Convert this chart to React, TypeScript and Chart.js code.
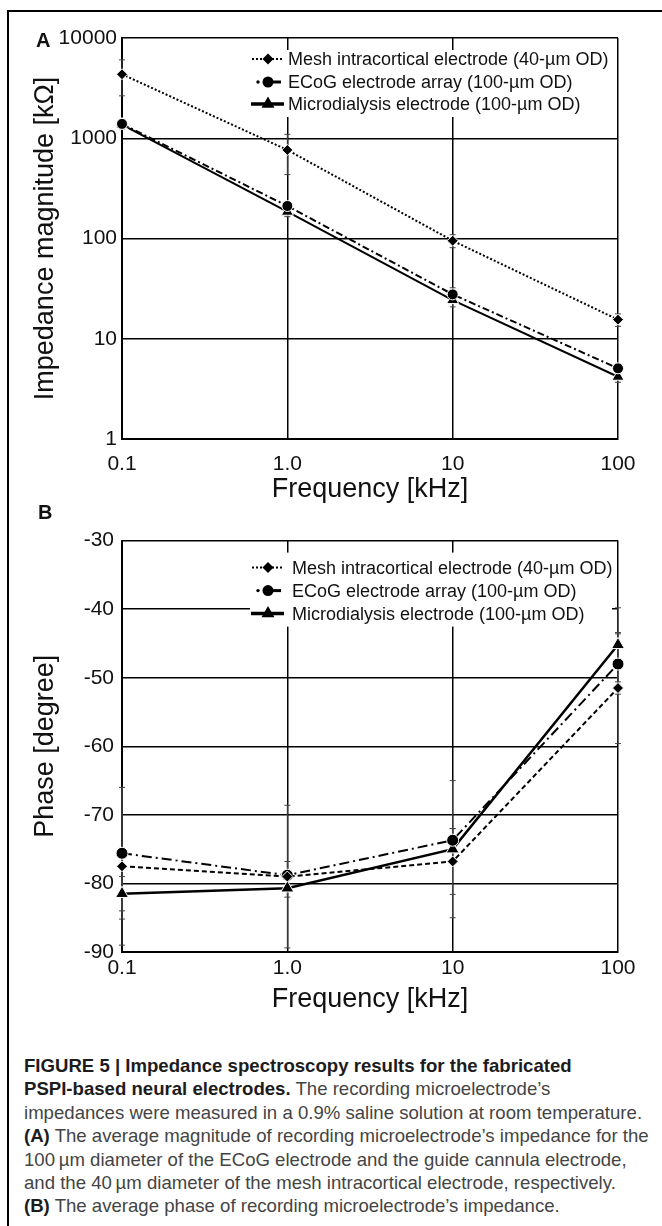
import React, { useEffect, useRef } from 'react';
import { Chart, registerables } from 'chart.js';

Chart.register(...registerables);

const FONT = "'Liberation Sans', Arial, Helvetica, sans-serif";

// ---------- data ----------
const FREQ_KHZ = [0.1, 1, 10, 100];
const FREQ_LABELS = ['0.1', '1.0', '10', '100'];
const SERIES_NAMES = [
  'Mesh intracortical electrode (40-µm OD)',
  'ECoG electrode array (100-µm OD)',
  'Microdialysis electrode (100-µm OD)',
];

const MAG_TICKS = [1, 10, 100, 1000, 10000];
const MAG_TICK_LABELS = ['1', '10', '100', '1000', '10000'];
const MAG_MESH = [4350, 764, 95, 15.5];
const MAG_ECOG = [1390, 211, 27.7, 5.07];
const MAG_MICRO = [1370, 185, 24.3, 4.18];
const MAG_ERR_MESH = [1700, 330, 14, 2.2];
const MAG_ERR_ECOG = [150, 22, 4.5, 0.6];
const MAG_ERR_MICRO = [120, 20, 3.5, 0.5];

const PHASE_MESH = [-77.5, -79.0, -76.8, -51.5];
const PHASE_ECOG = [-75.6, -78.8, -73.7, -48.0];
const PHASE_MICRO = [-81.5, -80.7, -75.0, -45.2];
const PHASE_ERR_MESH = [11.5, 10.4, 4.8, 8.1];
const PHASE_ERR_ECOG = [9.6, 2.0, 1.7, 4.4];
const PHASE_ERR_MICRO = [2.5, 1.3, 10.0, 5.4];

// ---------- plugins ----------
const errorBarPlugin = {
  id: 'errorBars',
  beforeDatasetsDraw(chart: any, _args: any, opts: any) {
    const { ctx } = chart;
    const xs = chart.scales.x;
    const ys = chart.scales.y;
    ctx.save();
    ctx.strokeStyle = opts.color || '#555';
    ctx.lineWidth = 1;
    (opts.errors || []).forEach((errs: number[], di: number) => {
      const data = chart.data.datasets[di].data as { x: number; y: number }[];
      data.forEach((p, i) => {
        const e = errs[i];
        const px = xs.getPixelForValue(p.x);
        const yTop = ys.getPixelForValue(p.y + e);
        const yBot = ys.getPixelForValue(p.y - e);
        ctx.beginPath();
        ctx.moveTo(px, yTop);
        ctx.lineTo(px, yBot);
        ctx.moveTo(px - 3, yTop);
        ctx.lineTo(px + 3, yTop);
        ctx.moveTo(px - 3, yBot);
        ctx.lineTo(px + 3, yBot);
        ctx.stroke();
      });
    });
    ctx.restore();
  },
};

function drawMarker(ctx: CanvasRenderingContext2D, style: string, x: number, y: number, r: number) {
  ctx.beginPath();
  if (style === 'circle') {
    ctx.arc(x, y, r, 0, Math.PI * 2);
  } else if (style === 'rectRot') {
    ctx.moveTo(x, y - r);
    ctx.lineTo(x + r, y);
    ctx.lineTo(x, y + r);
    ctx.lineTo(x - r, y);
    ctx.closePath();
  } else {
    ctx.moveTo(x, y - r);
    ctx.lineTo(x + r * 0.866, y + r * 0.5);
    ctx.lineTo(x - r * 0.866, y + r * 0.5);
    ctx.closePath();
  }
  ctx.fillStyle = '#000';
  ctx.fill();
}

const boxLegendPlugin = {
  id: 'boxLegend',
  afterDraw(chart: any, _args: any, opts: any) {
    const { ctx, chartArea } = chart;
    const L = chartArea.left;
    const T = chartArea.top;
    ctx.save();
    ctx.fillStyle = '#fff';
    ctx.fillRect(L + opts.box.left, T + opts.box.top, opts.box.width, opts.box.height);
    ctx.font = `${opts.fontSize}px ${FONT}`;
    ctx.textBaseline = 'middle';
    ctx.textAlign = 'left';
    opts.labels.forEach((label: string, i: number) => {
      const y = T + opts.rows[i];
      const cx = L + opts.sampleX;
      const s = opts.samples[i];
      ctx.strokeStyle = '#000';
      ctx.lineWidth = s.width;
      ctx.setLineDash(s.dash);
      ctx.beginPath();
      ctx.moveTo(cx + s.from, y);
      ctx.lineTo(cx + s.to, y);
      ctx.stroke();
      ctx.setLineDash([]);
      if (s.dot) {
        ctx.beginPath();
        ctx.arc(cx + s.dot, y, 1.7, 0, Math.PI * 2);
        ctx.fillStyle = '#000';
        ctx.fill();
      }
      drawMarker(ctx, s.marker, cx, y, s.r);
      ctx.fillStyle = '#111';
      ctx.fillText(label, L + opts.textX, y + 1);
    });
    ctx.restore();
  },
};

// ---------- helpers ----------
const pts = (vals: number[]) => vals.map((v, i) => ({ x: FREQ_KHZ[i], y: v }));

function ds(label: string, vals: number[], style: string, r: number, dash: number[], width: number) {
  return {
    label,
    data: pts(vals),
    borderColor: '#000',
    backgroundColor: '#000',
    borderWidth: width,
    borderDash: dash,
    pointStyle: style,
    pointRadius: r,
    pointHoverRadius: r,
    pointBackgroundColor: '#000',
    pointBorderColor: '#fff',
    pointBorderWidth: 1,
    fill: false,
    tension: 0,
    clip: false,
  };
}

function xScale(padTick: number, padTitle: number, height: number) {
  return {
    type: 'logarithmic',
    min: 0.1,
    max: 100,
    position: 'bottom',
    afterBuildTicks: (s: any) => {
      s.ticks = FREQ_KHZ.map((v) => ({ value: v }));
    },
    afterFit: (s: any) => {
      s.height = height;
    },
    ticks: {
      callback: (_v: any, i: number) => FREQ_LABELS[i],
      font: { family: FONT, size: 21 },
      color: '#111',
      padding: padTick,
      maxRotation: 0,
      autoSkip: false,
    },
    grid: { color: '#000', lineWidth: 1.5, drawTicks: false },
    border: { color: '#000', width: 2 },
    title: {
      display: true,
      text: 'Frequency [kHz]',
      font: { family: FONT, size: 27 },
      color: '#111',
      padding: { top: 0, bottom: padTitle },
    },
  };
}

const SAMPLE_STYLES = [
  { marker: 'rectRot', r: 5.5, width: 2, dash: [2, 2], from: -16, to: 15 },
  { marker: 'circle', r: 5.5, width: 3, dash: [], from: 0, to: 13, dot: -10 },
  { marker: 'triangle', r: 7.5, width: 3.5, dash: [], from: -17, to: 16 },
];

function ChartCanvas({ config, width, height, style }: any) {
  const ref = useRef<HTMLCanvasElement>(null);
  useEffect(() => {
    const chart = new Chart(ref.current as HTMLCanvasElement, config);
    return () => chart.destroy();
  }, []);
  return <canvas ref={ref} width={width} height={height} style={{ position: 'absolute', ...style, width, height }} />;
}

const magConfig: any = {
  type: 'line',
  data: {
    datasets: [
      ds(SERIES_NAMES[0], MAG_MESH, 'rectRot', 5.5, [2, 2], 2),
      ds(SERIES_NAMES[1], MAG_ECOG, 'circle', 5.5, [7, 3, 2, 3], 2),
      ds(SERIES_NAMES[2], MAG_MICRO, 'triangle', 7, [], 2),
    ],
  },
  options: {
    responsive: false,
    animation: false,
    devicePixelRatio: 1,
    layout: { padding: { top: 24, right: 32, left: 0, bottom: 0 } },
    scales: {
      x: xScale(13, 14, 81),
      y: {
        type: 'logarithmic',
        min: 1,
        max: 10000,
        afterBuildTicks: (s: any) => {
          s.ticks = MAG_TICKS.map((v) => ({ value: v }));
        },
        afterFit: (s: any) => {
          s.width = 112;
        },
        ticks: {
          callback: (_v: any, i: number) => MAG_TICK_LABELS[i],
          font: { family: FONT, size: 21 },
          color: '#111',
          padding: 5,
          autoSkip: false,
        },
        grid: { color: '#000', lineWidth: 1.5, drawTicks: false },
        border: { color: '#000', width: 2 },
        title: {
          display: true,
          text: 'Impedance magnitude [kΩ]',
          font: { family: FONT, size: 27 },
          color: '#111',
          padding: { top: 19, bottom: 0 },
        },
      },
    },
    plugins: {
      legend: { display: false },
      tooltip: { enabled: false },
      errorBars: { errors: [MAG_ERR_MESH, MAG_ERR_ECOG, MAG_ERR_MICRO], color: '#444' },
      boxLegend: {
        labels: SERIES_NAMES,
        box: { left: 122, top: 12, width: 368, height: 67 },
        rows: [21, 44, 66],
        sampleX: 146,
        textX: 166,
        fontSize: 18,
        samples: SAMPLE_STYLES,
      },
    },
  },
  plugins: [errorBarPlugin, boxLegendPlugin],
};

const phaseConfig: any = {
  type: 'line',
  data: {
    datasets: [
      ds(SERIES_NAMES[0], PHASE_MESH, 'rectRot', 5.5, [5, 3], 2),
      ds(SERIES_NAMES[1], PHASE_ECOG, 'circle', 6, [10, 4, 2, 4], 2),
      ds(SERIES_NAMES[2], PHASE_MICRO, 'triangle', 7.5, [], 2.5),
    ],
  },
  options: {
    responsive: false,
    animation: false,
    devicePixelRatio: 1,
    layout: { padding: { top: 17, right: 32, left: 0, bottom: 0 } },
    scales: {
      x: xScale(4, 6, 70),
      y: {
        type: 'linear',
        min: -90,
        max: -30,
        ticks: {
          stepSize: 10,
          font: { family: FONT, size: 21 },
          color: '#111',
          padding: 8,
        },
        afterFit: (s: any) => {
          s.width = 112;
        },
        grid: { color: '#000', lineWidth: 1.5, drawTicks: false },
        border: { color: '#000', width: 2 },
        title: {
          display: true,
          text: 'Phase [degree]',
          font: { family: FONT, size: 27 },
          color: '#111',
          padding: { top: 19, bottom: 0 },
        },
      },
    },
    plugins: {
      legend: { display: false },
      tooltip: { enabled: false },
      errorBars: { errors: [PHASE_ERR_MESH, PHASE_ERR_ECOG, PHASE_ERR_MICRO], color: '#444' },
      boxLegend: {
        labels: SERIES_NAMES,
        box: { left: 128, top: 12, width: 362, height: 74 },
        rows: [27, 50, 73],
        sampleX: 146,
        textX: 170,
        fontSize: 18,
        samples: SAMPLE_STYLES,
      },
    },
  },
  plugins: [errorBarPlugin, boxLegendPlugin],
};

const CAPTION_LINES: { b?: string; t?: string }[] = [
  { b: 'FIGURE 5 | Impedance spectroscopy results for the fabricated' },
  { b: 'PSPI-based neural electrodes.', t: ' The recording microelectrode’s' },
  { t: 'impedances were measured in a 0.9% saline solution at room temperature.' },
  { b: '(A)', t: ' The average magnitude of recording microelectrode’s impedance for the' },
  { t: '100\u2009µm diameter of the ECoG electrode and the guide cannula electrode,' },
  { t: 'and the 40\u2009µm diameter of the mesh intracortical electrode, respectively.' },
  { b: '(B)', t: ' The average phase of recording microelectrode’s impedance.' },
];

export default function App() {
  return (
    <div
      style={{
        position: 'absolute',
        left: 0,
        top: 0,
        width: 662,
        height: 1226,
        overflow: 'hidden',
        background: '#fff',
        fontFamily: FONT,
      }}
    >
      <div
        style={{
          position: 'absolute',
          left: 7,
          top: 10,
          width: 720,
          height: 1300,
          border: '2px solid #000',
        }}
      />
      <ChartCanvas config={magConfig} width={640} height={506} style={{ left: 10, top: 14 }} />
      <ChartCanvas config={phaseConfig} width={640} height={502} style={{ left: 10, top: 520 }} />
      <div style={{ position: 'absolute', left: 36, top: 28, fontWeight: 700, fontSize: 20, lineHeight: '24px', color: '#111' }}>A</div>
      <div style={{ position: 'absolute', left: 38, top: 500, fontWeight: 700, fontSize: 20, lineHeight: '24px', color: '#111' }}>B</div>
      <div style={{ position: 'absolute', left: 24, top: 1054, fontSize: 18.6, lineHeight: '23.4px', color: '#444' }}>
        {CAPTION_LINES.map((ln, i) => (
          <div key={i} style={{ whiteSpace: 'nowrap' }}>
            {ln.b ? <span style={{ fontWeight: 700, color: '#1c1c1c' }}>{ln.b}</span> : null}
            {ln.t ? <span>{ln.t}</span> : null}
          </div>
        ))}
      </div>
    </div>
  );
}
